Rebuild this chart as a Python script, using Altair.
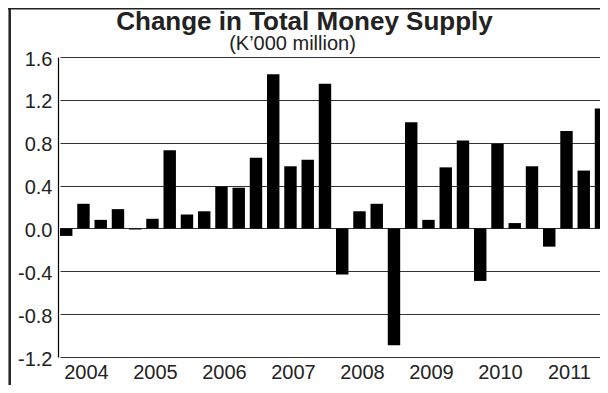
import altair as alt
import pandas as pd

years = ["2004", "2005", "2006", "2007", "2008", "2009", "2010", "2011"]
quarters = ["Q1", "Q2", "Q3", "Q4"]
values = [
    -0.07, 0.23, 0.08, 0.18,
    -0.01, 0.09, 0.73, 0.13,
    0.16, 0.39, 0.38, 0.66,
    1.44, 0.58, 0.64, 1.35,
    -0.43, 0.16, 0.23, -1.09,
    0.99, 0.08, 0.57, 0.82,
    -0.49, 0.79, 0.05, 0.58,
    -0.17, 0.91, 0.54, 1.12,
]
y_ticks = [-1.2, -0.8, -0.4, 0.0, 0.4, 0.8, 1.2, 1.6]
title_text = "Change in Total Money Supply"
subtitle_text = "(K\u2019000 million)"

periods = [f"{y} {q}" for y in years for q in quarters]
df = pd.DataFrame({"period": periods, "value": values})

FONT = "Liberation Sans"
TXT = "#222222"

bars = alt.Chart(df).mark_bar(color="black").encode(
    x=alt.X(
        "period:N",
        sort=periods,
        scale=alt.Scale(paddingInner=0.28, paddingOuter=0, range=[2, 549.2]),
        axis=alt.Axis(
            title=None, ticks=False, domain=False, labelAngle=0,
            labelExpr="slice(datum.value, 5) == 'Q2' ? slice(datum.value, 0, 4) : ''",
            labelFontSize=20, labelPadding=5.5, labelOffset=3, labelColor=TXT,
            labelFont=FONT,
        ),
    ),
    y=alt.Y(
        "value:Q",
        scale=alt.Scale(domain=[-1.2, 1.6], nice=False, zero=False),
        axis=alt.Axis(
            title=None, values=y_ticks, ticks=False, domain=True,
            domainColor="black", domainWidth=1.2, grid=True,
            gridColor="#333333", gridWidth=1,
            labelExpr="replace(format(datum.value, '.1f'), '\u2212', '-')",
            labelFontSize=20, labelPadding=6, labelOffset=2, labelColor=TXT,
            labelFont=FONT,
        ),
    ),
)

one = pd.DataFrame({"k": [0]})
top_rule = alt.Chart(one).mark_rule(color=TXT, strokeWidth=2).encode(
    x=alt.value(-50), x2=alt.value(560), y=alt.value(-48.5)
)
left_rule = alt.Chart(one).mark_rule(color=TXT, strokeWidth=2.5).encode(
    x=alt.value(-48.3), y=alt.value(-49), y2=alt.value(340)
)

title = alt.Chart(pd.DataFrame({"t": [title_text]})).mark_text(
    font=FONT, fontWeight="bold", fontSize=26, color=TXT,
    align="center", baseline="alphabetic",
).encode(text="t:N", x=alt.value(246.5), y=alt.value(-27.5))

subtitle = alt.Chart(pd.DataFrame({"t": [subtitle_text]})).mark_text(
    font=FONT, fontSize=20, color=TXT, align="center", baseline="alphabetic",
).encode(text="t:N", x=alt.value(234.5), y=alt.value(-7.5))

chart = alt.layer(bars, top_rule, left_rule, title, subtitle).properties(
    width=542,
    height=300,
    autosize=alt.AutoSizeParams(type="none"),
    padding={"left": 50, "top": 49, "right": 0, "bottom": 28},
).configure_view(stroke=None)

chart.save("out.html", embed_options={"renderer": "svg", "actions": False})
